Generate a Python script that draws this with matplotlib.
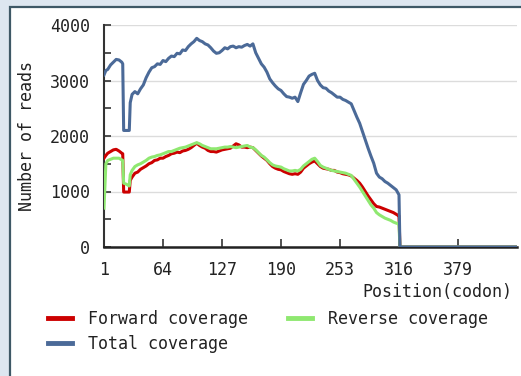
import matplotlib
matplotlib.use("Agg")
import matplotlib.pyplot as plt
from matplotlib.patches import Rectangle
from matplotlib.lines import Line2D

# ---- data ----
codon = [
    1, 3, 5, 8, 11, 14, 17, 20, 21, 22,
    25, 28, 29, 31, 34, 37, 40, 43, 46, 49,
    52, 55, 58, 61, 64, 67, 70, 73, 76, 79,
    82, 85, 88, 91, 94, 97, 100, 103, 106, 109,
    112, 115, 118, 121, 124, 127, 130, 133, 136, 139,
    142, 145, 148, 151, 154, 157, 160, 163, 166, 169,
    172, 175, 178, 181, 184, 187, 190, 193, 196, 199,
    202, 205, 208, 211, 214, 217, 220, 223, 226, 229,
    232, 235, 238, 241, 244, 247, 250, 253, 256, 259,
    262, 265, 268, 271, 274, 277, 280, 283, 286, 289,
    292, 295, 298, 301, 304, 307, 310, 313, 315, 316,
    317, 442,
]
total_cov = [
    3100, 3180, 3200, 3280, 3330, 3380, 3370, 3330, 3300, 2100,
    2100, 2100, 2600, 2750, 2800, 2760, 2850, 2920, 3050, 3150,
    3230, 3250, 3300, 3290, 3360, 3340, 3400, 3440, 3430, 3490,
    3480, 3550, 3540, 3610, 3660, 3700, 3760, 3720, 3700, 3660,
    3640, 3590, 3530, 3490, 3500, 3540, 3590, 3570, 3610, 3620,
    3590, 3610, 3600, 3630, 3650, 3620, 3660, 3500, 3400, 3300,
    3240, 3150, 3030, 2960, 2900, 2850, 2820, 2760, 2710, 2700,
    2680, 2700, 2620, 2780, 2930, 3000, 3080, 3110, 3130, 3000,
    2920, 2870, 2860, 2810, 2780, 2740, 2700, 2700, 2660, 2640,
    2610, 2580, 2460, 2340, 2230, 2080, 1930, 1780, 1640, 1510,
    1330, 1260, 1230, 1180, 1150, 1110, 1070, 1030, 970, 940,
    0, 0,
]
forward_cov = [
    1600, 1650, 1690, 1720, 1750, 1760, 1730, 1690, 1680, 990,
    990, 990, 1200, 1260, 1330, 1350, 1400, 1430, 1460, 1500,
    1520, 1560, 1570, 1600, 1600, 1630, 1650, 1680, 1690, 1710,
    1700, 1730, 1740, 1760, 1790, 1830, 1870, 1830, 1800, 1780,
    1740, 1720, 1720, 1710, 1730, 1750, 1760, 1770, 1780, 1820,
    1860, 1840, 1800, 1800, 1790, 1800, 1790, 1740, 1690, 1640,
    1600, 1560, 1500, 1450, 1420, 1400, 1390, 1360, 1340, 1320,
    1310, 1320, 1310, 1350, 1420, 1460, 1500, 1530, 1550, 1500,
    1450, 1420, 1410, 1400, 1380, 1380, 1350, 1340, 1320, 1310,
    1300, 1280, 1240, 1200, 1150, 1080, 1000, 920, 850, 780,
    730, 720, 700, 680, 660, 640, 620, 590, 570, 560,
    0, 0,
]
reverse_cov = [
    700, 1500, 1560, 1580, 1600, 1600, 1600, 1570, 1560, 1150,
    1130, 1100, 1300, 1380, 1450, 1480, 1500, 1530, 1560, 1600,
    1620, 1630, 1650, 1660, 1680, 1700, 1720, 1720, 1740, 1760,
    1780, 1790, 1800, 1820, 1840, 1860, 1880, 1860, 1830, 1810,
    1790, 1770, 1770, 1770, 1780, 1790, 1800, 1800, 1810, 1800,
    1790, 1800, 1810, 1820, 1830, 1800, 1790, 1750, 1700, 1650,
    1620, 1570, 1520, 1480, 1460, 1450, 1440, 1410, 1390, 1370,
    1370, 1380, 1370, 1400, 1460, 1500, 1540, 1580, 1600, 1540,
    1470, 1440, 1420, 1400, 1380, 1370, 1360, 1350, 1340, 1330,
    1310, 1290, 1220, 1150, 1080, 1000, 920, 840, 760, 700,
    620, 580, 550, 520, 500, 480, 450, 430, 420, 400,
    0, 0,
]
x_ticks = [1, 64, 127, 190, 253, 316, 379]
y_ticks = [0, 1000, 2000, 3000, 4000]
legend_labels = ["Forward coverage", "Reverse coverage", "Total coverage"]

RED = "#cc0000"
GREEN = "#8fe870"
BLUE = "#4b6a98"
FONT = "DejaVu Sans Mono"
FS = 12

fig = plt.figure(figsize=(5.21, 3.76), dpi=100)
fig.patch.set_facecolor("#dde6f0")
# white panel with dark border (left/top)
panel = Rectangle((10 / 521, -0.1), 1.2, 0.1 + (376 - 7) / 376,
                  transform=fig.transFigure, facecolor="white",
                  edgecolor="#3e5866", linewidth=1.6, zorder=-10)
fig.add_artist(panel)

ax = fig.add_axes([104 / 521, 1 - 247 / 376, (517 - 104) / 521, (247 - 25) / 376])
ax.set_zorder(1)
ax.set_facecolor("white")
ax.set_xlim(1, 442)
ax.set_ylim(0, 4000)

ax.plot(codon, forward_cov, color=RED, lw=2.2, zorder=3)
ax.plot(codon, reverse_cov, color=GREEN, lw=2.2, zorder=4)
ax.plot(codon, total_cov, color=BLUE, lw=2.2, zorder=5)

ax.set_yticks(y_ticks)
ax.set_yticks([500, 1500, 2500, 3500], minor=True)
ax.set_xticks(x_ticks)
ax.grid(axis="y", which="major", color="#dcdcdc", lw=1.0, zorder=0)
ax.tick_params(axis="both", which="both", direction="in", color="#333333",
               labelsize=FS, labelcolor="#222222", width=1.2)
ax.tick_params(axis="y", which="both", length=5, pad=10)
ax.tick_params(axis="x", which="major", length=6, pad=10)
for lab in ax.get_xticklabels() + ax.get_yticklabels():
    lab.set_fontfamily(FONT)

for s in ["top", "right"]:
    ax.spines[s].set_visible(False)
ax.spines["left"].set_color("#333333")
ax.spines["bottom"].set_color("#222222")
ax.spines["left"].set_linewidth(1.5)
ax.spines["bottom"].set_linewidth(1.8)

fig.text(512 / 521, 1 - 292 / 376, "Position(codon)", ha="right", va="center",
         fontsize=FS, family=FONT, color="#222222")
fig.text(27 / 521, 1 - 136 / 376, "Number of reads", ha="center", va="center",
         rotation=90, fontsize=FS, family=FONT, color="#222222")

handles = [Line2D([], [], color=RED, lw=3.5),
           Line2D([], [], color=BLUE, lw=3.5),
           Line2D([], [], color=GREEN, lw=3.5)]
labels = [legend_labels[0], legend_labels[2], legend_labels[1]]
fig.legend(handles, labels, ncol=2, frameon=False, loc="upper left",
           bbox_to_anchor=(33 / 521, 1 - 295 / 376), prop={"family": FONT, "size": FS},
           handlelength=1.45, handletextpad=0.95, columnspacing=2.4, labelspacing=0.4,
           labelcolor="#222222")

fig.savefig("out.png", dpi=100, facecolor=fig.get_facecolor())
